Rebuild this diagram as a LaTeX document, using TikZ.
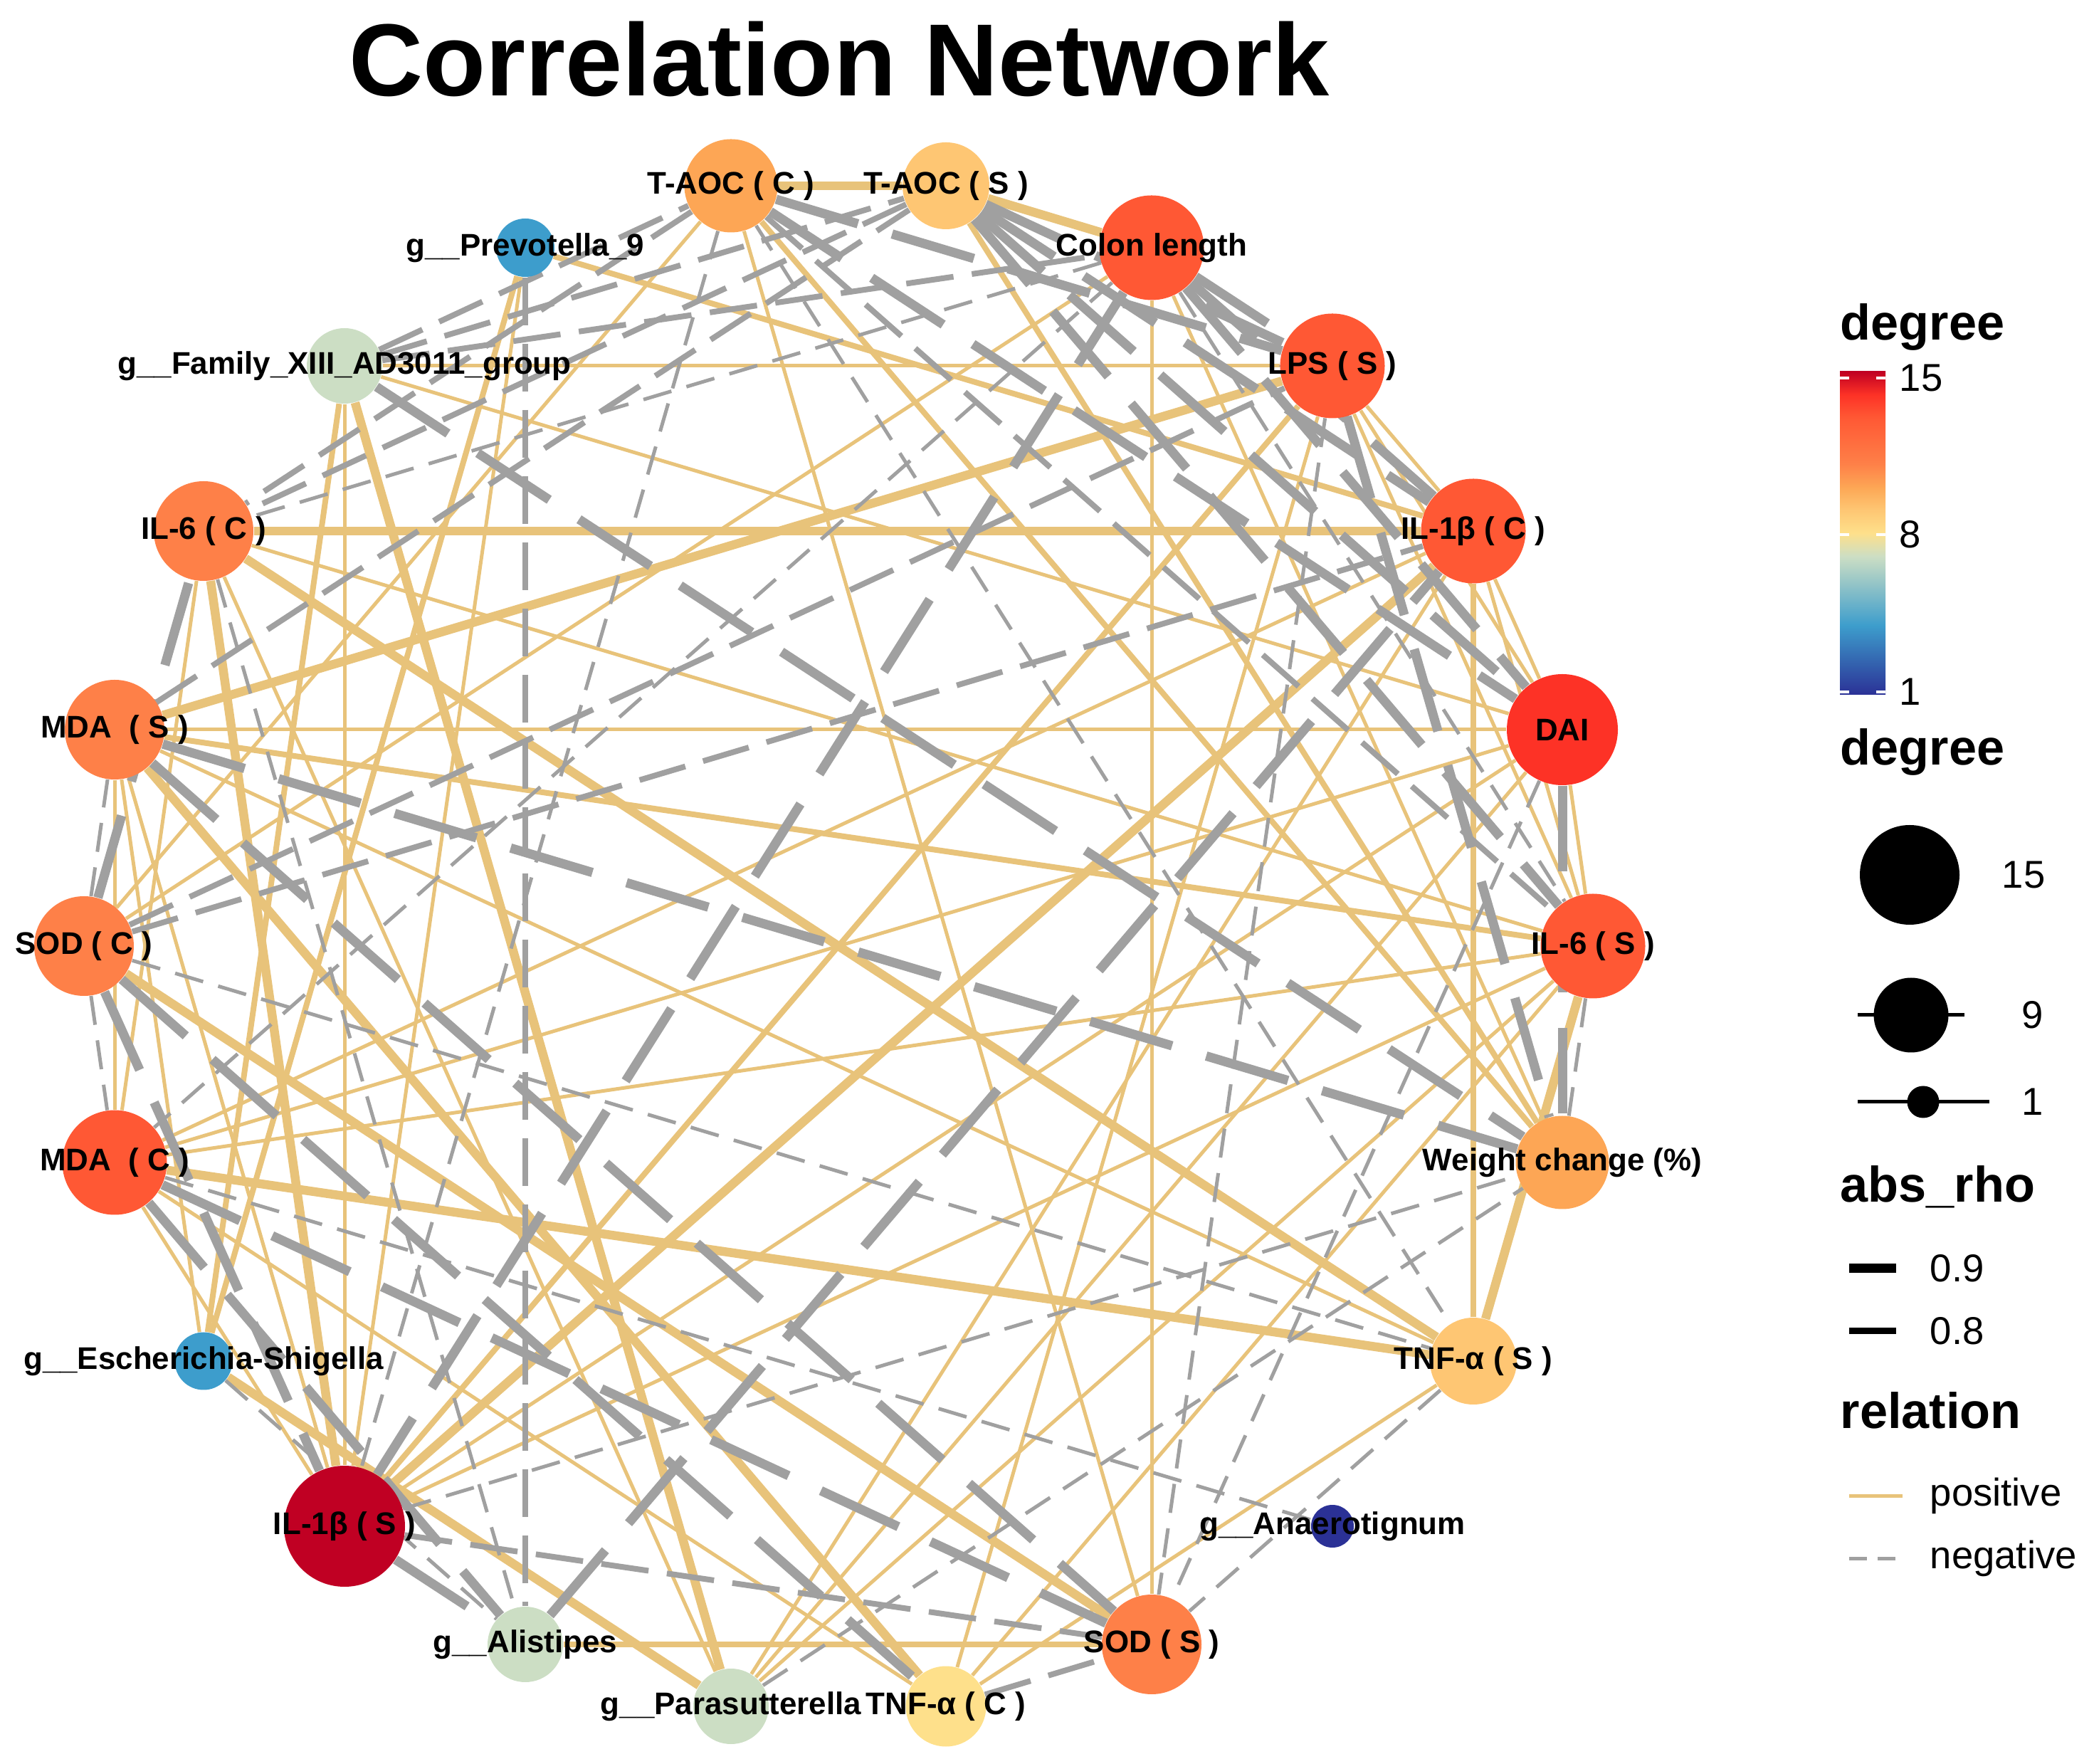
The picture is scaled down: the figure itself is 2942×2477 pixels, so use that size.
\documentclass[tikz,border=0pt]{standalone}
\usepackage{fontspec}
\setmainfont{Liberation Sans}
\usetikzlibrary{backgrounds}

\definecolor{posedge}{RGB}{232,195,122}
\definecolor{negedge}{RGB}{160,160,160}
\definecolor{deg15}{RGB}{192,0,35}
\definecolor{deg14}{RGB}{253,50,38}
\definecolor{deg13}{RGB}{255,88,52}
\definecolor{deg11}{RGB}{254,128,72}
\definecolor{deg10}{RGB}{253,166,85}
\definecolor{deg9}{RGB}{254,198,115}
\definecolor{deg8}{RGB}{254,224,139}
\definecolor{deg7}{RGB}{204,222,196}
\definecolor{deg4}{RGB}{61,157,204}
\definecolor{deg1}{RGB}{43,49,150}
\pgfdeclareverticalshading{degbar}{100bp}{color(0bp)=(deg1); color(25bp)=(deg1);
  color(35.7bp)=(deg4); color(46.4bp)=(deg7); color(50bp)=(deg8); color(53.6bp)=(deg9);
  color(57.1bp)=(deg10); color(60.7bp)=(deg11); color(67.9bp)=(deg13); color(71.4bp)=(deg14);
  color(75bp)=(deg15); color(100bp)=(deg15)}

\begin{document}
\begin{tikzpicture}[x=0.1mm,y=0.1mm,
    vtx/.style={circle,inner sep=0pt,minimum size=#1},
    lab/.style={font=\bfseries\fontsize{12.5}{14}\selectfont,inner sep=0pt},
    ttl/.style={font=\bfseries\fontsize{20}{24}\selectfont,inner sep=0pt,anchor=base west},
    txt/.style={font=\fontsize{15.5}{18}\selectfont,inner sep=0pt,anchor=west},
    p1/.style={draw=posedge,line width=0.5mm},
    p2/.style={draw=posedge,line width=0.8mm},
    p3/.style={draw=posedge,line width=1.25mm},
    n1/.style={draw=negedge,line width=0.5mm,dash pattern=on 4.1mm off 2.2mm},
    n2/.style={draw=negedge,line width=0.8mm,dash pattern=on 6.7mm off 2.6mm},
    n3/.style={draw=negedge,line width=1.3mm,dash pattern=on 12mm off 5mm}]
\useasboundingbox (0,0) rectangle (2942,2477);

\node[font=\bfseries\fontsize{41}{48}\selectfont,inner sep=0pt,anchor=base] (title) at (1179,2342) {Correlation Network};

% nodes on the circle
\node[vtx=14mm,fill=deg11] (sodC) at (118,1148) {};
\node[vtx=14mm,fill=deg11] (mdaS) at (161,1452) {};
\node[vtx=14mm,fill=deg11] (il6C) at (286,1731) {};
\node[vtx=10.6mm,fill=deg7] (family) at (484,1963) {};
\node[vtx=8.2mm,fill=deg4] (prevot) at (738,2129) {};
\node[vtx=13.1mm,fill=deg10] (taocC) at (1027,2216) {};
\node[vtx=12.2mm,fill=deg9] (taocS) at (1329,2216) {};
\node[vtx=14.7mm,fill=deg13] (colon) at (1618,2129) {};
\node[vtx=14.7mm,fill=deg13] (lps) at (1872,1963) {};
\node[vtx=14.7mm,fill=deg13] (il1bC) at (2070,1731) {};
\node[vtx=15.6mm,fill=deg14] (dai) at (2195,1452) {};
\node[vtx=14.7mm,fill=deg13] (il6S) at (2238,1148) {};
\node[vtx=13.1mm,fill=deg10] (weight) at (2195,844) {};
\node[vtx=12.2mm,fill=deg9] (tnfS) at (2070,565) {};
\node[vtx=6mm,fill=deg1] (anaero) at (1872,333) {};
\node[vtx=14mm,fill=deg11] (sodS) at (1618,167) {};
\node[vtx=11.3mm,fill=deg8] (tnfC) at (1329,80) {};
\node[vtx=10.6mm,fill=deg7] (parasut) at (1027,80) {};
\node[vtx=10.6mm,fill=deg7] (alist) at (738,167) {};
\node[vtx=17mm,fill=deg15] (il1bS) at (484,333) {};
\node[vtx=8.1mm,fill=deg4] (esch) at (286,565) {};
\node[vtx=14.7mm,fill=deg13] (mdaC) at (161,844) {};

\node[lab] at (sodC) {SOD ( C )};
\node[lab] at (mdaS) {MDA \ ( S )};
\node[lab] at (il6C) {IL-6 ( C )};
\node[lab] at (family) {g\_\_Family\_XIII\_AD3011\_group};
\node[lab] at (prevot) {g\_\_Prevotella\_9};
\node[lab] at (taocC) {T-AOC ( C )};
\node[lab] at (taocS) {T-AOC ( S )};
\node[lab] at (colon) {Colon length};
\node[lab] at (lps) {LPS ( S )};
\node[lab] at (il1bC) {IL-1β ( C )};
\node[lab] at (dai) {DAI};
\node[lab] at (il6S) {IL-6 ( S )};
\node[lab] at (weight) {Weight change (\%)};
\node[lab] at (tnfS) {TNF-α ( S )};
\node[lab] at (anaero) {g\_\_Anaerotignum};
\node[lab] at (sodS) {SOD ( S )};
\node[lab] at (tnfC) {TNF-α ( C )};
\node[lab] at (parasut) {g\_\_Parasutterella};
\node[lab] at (alist) {g\_\_Alistipes};
\node[lab] at (il1bS) {IL-1β ( S )};
\node[lab] at (esch) {g\_\_Escherichia-Shigella};
\node[lab] at (mdaC) {MDA \ ( C )};

\begin{scope}[on background layer]
% positive correlations
\draw[p3] (taocC) -- (taocS);
\draw[p3] (taocS) -- (colon);
\draw[p3] (il6C) -- (il1bC);
\draw[p1] (family) -- (lps);
\draw[p1] (mdaS) -- (dai);
\draw[p2] (alist) -- (sodS);
\draw[p1] (colon) -- (sodS);
\draw[p1] (family) -- (il1bS);
\draw[p2] (il1bC) -- (tnfS);
\draw[p1] (mdaS) -- (mdaC);
\draw[p1] (taocC) -- (sodC);
\draw[p1] (taocC) -- (sodS);
\draw[p2] (taocC) -- (weight);
\draw[p2] (prevot) -- (il1bC);
\draw[p2] (prevot) -- (esch);
\draw[p1] (prevot) -- (il1bS);
\draw[p1] (sodC) -- (colon);
\draw[p3] (sodC) -- (sodS);
\draw[p1] (mdaS) -- (esch);
\draw[p1] (mdaC) -- (il6C);
\draw[p2] (mdaS) -- (il6S);
\draw[p1] (mdaS) -- (tnfS);
\draw[p3] (mdaS) -- (tnfC);
\draw[p1] (mdaS) -- (il1bS);
\draw[p3] (mdaS) -- (lps);
\draw[p3] (il6C) -- (il1bS);
\draw[p1] (il6C) -- (parasut);
\draw[p3] (il6C) -- (tnfS);
\draw[p1] (il6C) -- (il6S);
\draw[p1] (family) -- (dai);
\draw[p3] (family) -- (parasut);
\draw[p2] (family) -- (esch);
\draw[p3] (parasut) -- (esch);
\draw[p1] (parasut) -- (il1bC);
\draw[p1] (parasut) -- (dai);
\draw[p1] (parasut) -- (il6S);
\draw[p2] (taocS) -- (weight);
\draw[p1] (colon) -- (weight);
\draw[p1] (il1bC) -- (dai);
\draw[p1] (il1bC) -- (il6S);
\draw[p1] (il1bC) -- (mdaC);
\draw[p3] (il1bC) -- (il1bS);
\draw[p2] (il1bS) -- (lps);
\draw[p1] (il1bS) -- (dai);
\draw[p1] (il1bS) -- (il6S);
\draw[p1] (tnfC) -- (lps);
\draw[p1] (tnfC) -- (il6S);
\draw[p1] (tnfC) -- (tnfS);
\draw[p1] (tnfC) -- (mdaC);
\draw[p1] (lps) -- (dai);
\draw[p1] (lps) -- (il1bC);
\draw[p1] (lps) -- (il6S);
\draw[p1] (mdaC) -- (il6S);
\draw[p3] (mdaC) -- (tnfS);
\draw[p1] (mdaC) -- (il1bS);
\draw[p1] (mdaC) -- (dai);
\draw[p3] (il6S) -- (tnfS);
\draw[p1] (dai) -- (il6S);
% negative correlations
\draw[n2] (prevot) -- (alist);
\draw[n3] (dai) -- (weight);
\draw[n2] (taocC) -- (il6C);
\draw[n2] (taocS) -- (il6C);
\draw[n1] (colon) -- (il6C);
\draw[n2] (family) -- (taocS);
\draw[n2] (family) -- (colon);
\draw[n2] (family) -- (taocC);
\draw[n1] (taocC) -- (il1bS);
\draw[n1] (taocC) -- (tnfS);
\draw[n3] (taocC) -- (dai);
\draw[n3] (taocC) -- (lps);
\draw[n2] (taocC) -- (il6S);
\draw[n1] (sodC) -- (mdaS);
\draw[n3] (sodC) -- (il6C);
\draw[n2] (sodC) -- (lps);
\draw[n2] (sodC) -- (il1bC);
\draw[n1] (sodC) -- (tnfS);
\draw[n3] (sodC) -- (tnfC);
\draw[n3] (sodC) -- (il1bS);
\draw[n1] (sodC) -- (mdaC);
\draw[n2] (mdaS) -- (taocS);
\draw[n3] (mdaS) -- (weight);
\draw[n3] (mdaS) -- (sodS);
\draw[n1] (il6C) -- (alist);
\draw[n3] (family) -- (weight);
\draw[n1] (parasut) -- (weight);
\draw[n1] (mdaC) -- (anaero);
\draw[n3] (taocS) -- (il1bC);
\draw[n3] (taocS) -- (dai);
\draw[n3] (taocS) -- (lps);
\draw[n3] (taocS) -- (il6S);
\draw[n3] (colon) -- (lps);
\draw[n3] (colon) -- (dai);
\draw[n3] (colon) -- (il1bS);
\draw[n1] (colon) -- (il6S);
\draw[n3] (colon) -- (il1bC);
\draw[n1] (colon) -- (mdaC);
\draw[n3] (lps) -- (weight);
\draw[n1] (lps) -- (sodS);
\draw[n2] (il1bS) -- (sodS);
\draw[n1] (il1bS) -- (weight);
\draw[n3] (il1bS) -- (alist);
\draw[n3] (mdaC) -- (alist);
\draw[n3] (alist) -- (il1bC);
\draw[n3] (mdaC) -- (sodS);
\draw[n2] (tnfC) -- (sodS);
\draw[n1] (dai) -- (sodS);
\draw[n1] (il6S) -- (weight);
\draw[n1] (tnfS) -- (sodS);
\draw[n1] (esch) -- (alist);
\end{scope}

% legend
\node[ttl] (degT) at (2585,1999) {degree};
\shade[shading=degbar] (2585,1501) rectangle (2649,1955);
\foreach \yy/\vv in {1946/15, 1726/8, 1505/1} {
  \draw[white,line width=0.4mm] (2585,\yy) -- (2598,\yy) (2636,\yy) -- (2649,\yy);
  \node[txt] at (2668,\yy) {\vv};
}
\node[ttl] (sizeT) at (2585,1402) {degree};
\node[vtx=14mm,fill=black] (key15) at (2683,1248) {};
\node[txt] at (2812,1248) {15};
\coordinate (k9a) at (2610,1051);
\coordinate (k9b) at (2760,1051);
\draw[line width=0.5mm] (k9a) -- (k9b);
\node[vtx=10.5mm,fill=black] (key9) at (2685,1051) {};
\node[txt] at (2840,1051) {9};
\coordinate (k1a) at (2610,929);
\coordinate (k1b) at (2795,929);
\draw[line width=0.5mm] (k1a) -- (k1b);
\node[vtx=4.5mm,fill=black] (key1) at (2702,929) {};
\node[txt] at (2840,929) {1};
\node[ttl] (rhoT) at (2585,788) {abs\_rho};
\coordinate (r9a) at (2598,695);
\coordinate (r9b) at (2664,695);
\draw[line width=1.3mm] (r9a) -- (r9b);
\node[txt] at (2711,695) {0.9};
\coordinate (r8a) at (2598,607);
\coordinate (r8b) at (2664,607);
\draw[line width=0.9mm] (r8a) -- (r8b);
\node[txt] at (2711,607) {0.8};
\node[ttl] (relT) at (2585,470) {relation};
\coordinate (posa) at (2598,376);
\coordinate (posb) at (2673,376);
\draw[p1] (posa) -- (posb);
\node[txt] at (2711,376) {positive};
\coordinate (nega) at (2598,288);
\coordinate (negb) at (2673,288);
\draw[draw=negedge,line width=0.5mm,dash pattern=on 2.5mm off 1.5mm] (nega) -- (negb);
\node[txt] at (2711,288) {negative};
\end{tikzpicture}
\end{document}
